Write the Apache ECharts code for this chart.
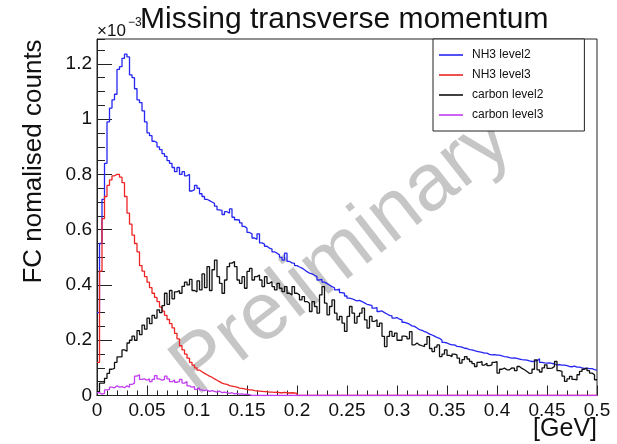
<!DOCTYPE html>
<html>
<head>
<meta charset="utf-8">
<style>
  html, body { margin: 0; padding: 0; background: #ffffff; }
  #chart { width: 617px; height: 444px; }
</style>
<script src="https://cdn.jsdelivr.net/npm/echarts@6/dist/echarts.min.js"></script>
</head>
<body>
<div id="chart"></div>
<script>
// Missing transverse momentum histograms, 200 bins from 0 to 0.5 GeV.
// Bin contents are in units of 1e-3 (FC normalised counts).
const BIN_WIDTH = 0.0025;
const N_BINS = 200;

const seriesNames = ['NH3 level2', 'NH3 level3', 'carbon level2', 'carbon level3'];

const nh3Level2 = [
  0.30, 0.55, 0.71, 0.84, 0.99, 1.04, 1.07, 1.09, 1.18, 1.19,
  1.22, 1.235, 1.225, 1.16, 1.15, 1.11, 1.07, 1.06, 1.03, 0.99,
  0.95, 0.94, 0.92, 0.915, 0.90, 0.89, 0.875, 0.865, 0.85, 0.84,
  0.825, 0.81, 0.825, 0.80, 0.81, 0.795, 0.80, 0.74, 0.745, 0.76,
  0.75, 0.73, 0.72, 0.71, 0.705, 0.70, 0.695, 0.685, 0.672, 0.67,
  0.655, 0.665, 0.66, 0.675, 0.645, 0.636, 0.635, 0.625, 0.612, 0.605,
  0.59, 0.585, 0.57, 0.565, 0.585, 0.552, 0.548, 0.54, 0.533, 0.53,
  0.52, 0.515, 0.509, 0.50, 0.49, 0.515, 0.485, 0.48, 0.478, 0.47,
  0.465, 0.461, 0.455, 0.448, 0.443, 0.44, 0.435, 0.43, 0.418, 0.42,
  0.41, 0.405, 0.40, 0.394, 0.39, 0.382, 0.385, 0.372, 0.37, 0.36,
  0.352, 0.35, 0.346, 0.342, 0.344, 0.34, 0.335, 0.33, 0.328, 0.325,
  0.316, 0.318, 0.304, 0.306, 0.30, 0.295, 0.29, 0.288, 0.28, 0.282,
  0.276, 0.274, 0.265, 0.262, 0.258, 0.252, 0.25, 0.244, 0.238, 0.236,
  0.231, 0.228, 0.222, 0.219, 0.215, 0.21, 0.207, 0.20, 0.192, 0.19,
  0.186, 0.183, 0.183, 0.178, 0.177, 0.175, 0.171, 0.17, 0.166, 0.165,
  0.162, 0.16, 0.158, 0.156, 0.153, 0.153, 0.149, 0.147, 0.148, 0.146,
  0.146, 0.143, 0.141, 0.14, 0.137, 0.135, 0.136, 0.134, 0.132, 0.13,
  0.129, 0.128, 0.125, 0.123, 0.124, 0.126, 0.133, 0.12, 0.118, 0.117,
  0.118, 0.116, 0.114, 0.111, 0.112, 0.11, 0.11, 0.108, 0.105, 0.104,
  0.106, 0.103, 0.103, 0.10, 0.098, 0.099, 0.097, 0.097, 0.094, 0.092
];

// Filled bins only; every later bin is empty.
const nh3Level3 = [
  0.12, 0.45, 0.64, 0.72, 0.76, 0.78, 0.795, 0.80, 0.80, 0.79,
  0.77, 0.72, 0.66, 0.62, 0.58, 0.55, 0.52, 0.47, 0.45, 0.43,
  0.41, 0.39, 0.37, 0.355, 0.34, 0.32, 0.305, 0.29, 0.275, 0.26,
  0.245, 0.225, 0.205, 0.18, 0.165, 0.15, 0.135, 0.12, 0.11, 0.10,
  0.092, 0.086, 0.08, 0.075, 0.07, 0.066, 0.06, 0.055, 0.05, 0.045,
  0.042, 0.04, 0.036, 0.034, 0.032, 0.03, 0.027, 0.026, 0.024, 0.022,
  0.02, 0.02, 0.018, 0.017, 0.016, 0.015, 0.014, 0.014, 0.012, 0.012,
  0.011, 0.012, 0.01, 0.01, 0.011, 0.01, 0.009, 0.01, 0.009, 0.008
];

const carbonLevel2 = [
  0.014, 0.045, 0.045, 0.062, 0.08, 0.095, 0.098, 0.12, 0.14, 0.14,
  0.165, 0.16, 0.19, 0.20, 0.215, 0.20, 0.235, 0.22, 0.255, 0.24,
  0.28, 0.26, 0.29, 0.28, 0.31, 0.30, 0.325, 0.37, 0.33, 0.38,
  0.35, 0.375, 0.38, 0.37, 0.395, 0.41, 0.40, 0.42, 0.38, 0.375,
  0.415, 0.382, 0.44, 0.39, 0.466, 0.38, 0.455, 0.49, 0.43, 0.406,
  0.37, 0.418, 0.466, 0.479, 0.485, 0.466, 0.418, 0.406, 0.43, 0.388,
  0.449, 0.46, 0.418, 0.43, 0.436, 0.418, 0.394, 0.43, 0.406, 0.412,
  0.394, 0.382, 0.406, 0.388, 0.376, 0.394, 0.37, 0.364, 0.394, 0.37,
  0.364, 0.346, 0.358, 0.34, 0.334, 0.304, 0.34, 0.322, 0.298, 0.364,
  0.394, 0.334, 0.292, 0.322, 0.346, 0.298, 0.274, 0.286, 0.262, 0.232,
  0.286, 0.322, 0.298, 0.262, 0.286, 0.298, 0.316, 0.274, 0.244, 0.286,
  0.268, 0.274, 0.25, 0.262, 0.214, 0.177, 0.214, 0.232, 0.214, 0.226,
  0.20, 0.20, 0.215, 0.213, 0.205, 0.231, 0.183, 0.19, 0.183, 0.18,
  0.177, 0.185, 0.213, 0.17, 0.159, 0.175, 0.183, 0.141, 0.15, 0.165,
  0.145, 0.141, 0.15, 0.147, 0.135, 0.117, 0.13, 0.141, 0.132, 0.123,
  0.115, 0.105, 0.12, 0.123, 0.11, 0.117, 0.108, 0.111, 0.12, 0.123,
  0.081, 0.095, 0.099, 0.093, 0.093, 0.10, 0.099, 0.09, 0.105, 0.098,
  0.093, 0.087, 0.08, 0.081, 0.095, 0.129, 0.093, 0.085, 0.10, 0.111,
  0.098, 0.099, 0.105, 0.123, 0.09, 0.087, 0.07, 0.051, 0.06, 0.069,
  0.058, 0.057, 0.075, 0.087, 0.095, 0.099, 0.09, 0.081, 0.075, 0.057
];

// Filled bins only; every later bin is empty.
const carbonLevel3 = [
  0.01, 0.005, 0.008, 0.02, 0.022, 0.03, 0.028, 0.035, 0.03, 0.032,
  0.028, 0.035, 0.03, 0.04, 0.045, 0.07, 0.075, 0.058, 0.06, 0.055,
  0.06, 0.05, 0.058, 0.072, 0.06, 0.055, 0.058, 0.07, 0.06, 0.05,
  0.056, 0.048, 0.05, 0.058, 0.045, 0.05, 0.035, 0.03, 0.032, 0.022,
  0.028, 0.02, 0.018, 0.02, 0.015, 0.018, 0.015, 0.012, 0.016, 0.01,
  0.012, 0.01, 0.008, 0.01, 0.006, 0.008, 0.005, 0.006, 0.004, 0.005,
  0.003
];

const xTickInterval = 0.05;
const yTickInterval = 0.2;
const yMinorInterval = 0.05;
const yMax = 1.29;

const FONT = "'Liberation Sans', Arial, Helvetica, sans-serif";

// Step outline of a histogram: one point per lower bin edge plus the upper edge of the last bin.
function histogramPoints(contents) {
  const pts = [];
  let last = 0;
  for (let i = 0; i < N_BINS; i++) {
    last = i < contents.length ? contents[i] : 0;
    pts.push([i * BIN_WIDTH, last]);
  }
  pts.push([N_BINS * BIN_WIDTH, last]);
  return pts;
}

const colors = ['#2626f2', '#ee2424', '#111111', '#c23cf0'];
const contentsList = [nh3Level2, nh3Level3, carbonLevel2, carbonLevel3];

const chart = echarts.init(document.getElementById('chart'), null, { renderer: 'canvas' });

chart.setOption({
  animation: false,
  backgroundColor: '#ffffff',
  textStyle: { fontFamily: FONT },
  grid: {
    left: 97, top: 39, width: 500, height: 356.5,
    show: true, borderColor: '#222', borderWidth: 1, backgroundColor: 'transparent'
  },
  xAxis: {
    type: 'value', min: 0, max: 0.5, interval: xTickInterval,
    axisLine: { show: true, lineStyle: { color: '#222', width: 1 } },
    axisTick: { show: true, inside: true, length: 10, lineStyle: { color: '#222' } },
    minorTick: { show: true, splitNumber: 5, length: 5, lineStyle: { color: '#222' } },
    splitLine: { show: false },
    minorSplitLine: { show: false },
    axisLabel: { color: '#111', fontSize: 19, margin: 6, fontFamily: FONT }
  },
  yAxis: [
    {
      type: 'value', min: 0, max: yMax, interval: yTickInterval, position: 'left',
      axisLine: { show: true, lineStyle: { color: '#222', width: 1 } },
      axisTick: { show: true, inside: true, length: 15, lineStyle: { color: '#222' } },
      splitLine: { show: false },
      axisLabel: {
        color: '#111', fontSize: 19, margin: 5, fontFamily: FONT, showMaxLabel: false,
        formatter: v => (Math.abs(v / yTickInterval - Math.round(v / yTickInterval)) < 1e-6 ? String(+v.toFixed(1)) : '')
      }
    },
    {
      type: 'value', min: 0, max: yMax, interval: yMinorInterval, position: 'left', offset: 0,
      axisLine: { show: false },
      axisTick: { show: true, inside: true, length: 8, lineStyle: { color: '#222' } },
      splitLine: { show: false },
      axisLabel: { show: false }
    }
  ],
  legend: {
    orient: 'vertical',
    left: 433, top: 39,
    padding: [9, 41, 9, 6],
    icon: 'rect',
    itemWidth: 24, itemHeight: 1.6, itemGap: 6,
    borderColor: '#222', borderWidth: 1,
    backgroundColor: '#ffffff',
    textStyle: { color: '#111', fontSize: 12, lineHeight: 14, fontFamily: FONT, padding: [0, 0, 0, 4] },
    data: seriesNames
  },
  series: seriesNames.map((name, k) => ({
    name,
    type: 'line',
    step: 'end',
    symbol: 'none',
    xAxisIndex: 0, yAxisIndex: 0,
    z: 3 + k,
    color: colors[k],
    lineStyle: { color: colors[k], width: 1.3 },
    data: histogramPoints(contentsList[k])
  })),
  graphic: [
    {
      type: 'text', z: 1, x: 342, y: 255, rotation: 38 * Math.PI / 180,
      style: { text: 'Preliminary', fill: '#c6c6c6', fontSize: 81, fontFamily: FONT, align: 'center', verticalAlign: 'middle' }
    },
    {
      type: 'text', z: 10, x: 140, y: 19.5,
      style: { text: 'Missing transverse momentum', fill: '#111', fontSize: 30, fontFamily: FONT, align: 'left', verticalAlign: 'middle' }
    },
    {
      type: 'text', z: 10, x: 97, y: 31,
      style: { text: '×10', fill: '#111', fontSize: 17, fontFamily: FONT, align: 'left', verticalAlign: 'middle' }
    },
    {
      type: 'text', z: 10, x: 128, y: 23,
      style: { text: '−3', fill: '#111', fontSize: 12, fontFamily: FONT, align: 'left', verticalAlign: 'middle' }
    },
    {
      type: 'text', z: 10, x: 34, y: 161.5, rotation: Math.PI / 2,
      style: { text: 'FC nomalised counts', fill: '#111', fontSize: 26, fontFamily: FONT, align: 'center', verticalAlign: 'middle' }
    },
    {
      type: 'text', z: 10, x: 597, y: 429,
      style: { text: '[GeV]', fill: '#111', fontSize: 25, fontFamily: FONT, align: 'right', verticalAlign: 'middle' }
    }
  ]
});
</script>
</body>
</html>
